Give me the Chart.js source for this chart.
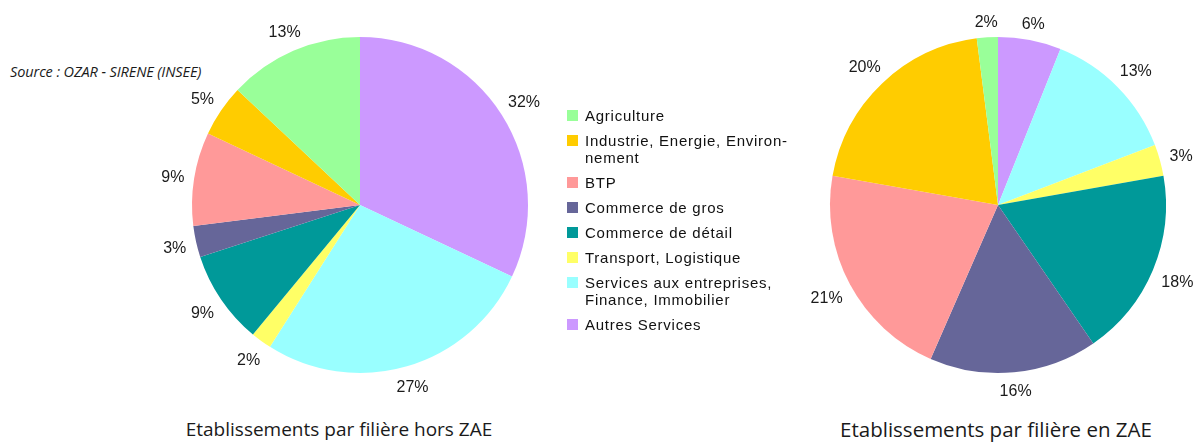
<!DOCTYPE html>
<html>
<head>
<meta charset="utf-8">
<script src="https://cdn.jsdelivr.net/npm/chart.js@4"></script>
<style>
  body { margin: 0; width: 1196px; height: 443px; background: #fff; position: relative; overflow: hidden; }
  canvas { position: absolute; }
  #pieHors { left: 140px; top: 5px; }
  #pieEn { left: 778px; top: 5px; }
  .titre { position: absolute; top: 416px; font-family: "Open Sans", sans-serif; font-size: 19px; color: #1a1a1a; white-space: nowrap; transform: translateX(-50%); }
  #source { position: absolute; left: 10px; top: 62px; font-family: "Open Sans", sans-serif; font-style: italic; font-size: 14.5px; color: #1a1a1a; letter-spacing: -0.1px; }
  #legende { position: absolute; left: 567px; top: 107px; font-family: "Liberation Sans", Arial, sans-serif; font-size: 15px; letter-spacing: 0.75px; color: #111; }
  .item { position: relative; padding-left: 18px; line-height: 17px; margin-bottom: 8px; white-space: pre-line; }
  .item span { position: absolute; left: 0; top: 3px; width: 11px; height: 11px; }
</style>
</head>
<body>
<div id="source">Source : OZAR - SIRENE (INSEE)</div>
<canvas id="pieHors" width="440" height="400"></canvas>
<canvas id="pieEn" width="440" height="400"></canvas>
<div id="legende"></div>
<div class="titre" style="left:339px">Etablissements par filière hors ZAE</div>
<div class="titre" style="left:996px; top:415px; font-size:20.5px">Etablissements par filière en ZAE</div>
<script>
// filières, dans l'ordre de la légende
const filieres = ['Agriculture', 'Industrie, Energie, Environ-\nnement', 'BTP', 'Commerce de gros',
  'Commerce de détail', 'Transport, Logistique', 'Services aux entreprises,\nFinance, Immobilier', 'Autres Services'];
const couleurs = ['#99ff99', '#ffcc00', '#ff9999', '#666699', '#009999', '#ffff66', '#99ffff', '#cc99ff'];
// pourcentages d'établissements
const horsZAE = [13, 5, 9, 3, 9, 2, 27, 32];
const enZAE = [2, 20, 21, 16, 18, 3, 13, 6];

// légende
const leg = document.getElementById('legende');
filieres.forEach((f, i) => {
  const d = document.createElement('div');
  d.className = 'item';
  d.innerHTML = '<span style="background:' + couleurs[i] + '"></span>';
  d.appendChild(document.createTextNode(f));
  leg.appendChild(d);
});

// étiquettes % autour du camembert
const etiquettes = {
  id: 'etiquettes',
  afterDatasetsDraw(chart) {
    const ctx = chart.ctx;
    const ds = chart.data.datasets[0];
    ctx.save();
    ctx.font = '16px "Liberation Sans", Arial, sans-serif';
    ctx.fillStyle = '#1a1a1a';
    ctx.textAlign = 'center';
    ctx.textBaseline = 'middle';
    chart.getDatasetMeta(0).data.forEach((arc, i) => {
      const p = arc.getProps(['x', 'y', 'startAngle', 'endAngle', 'outerRadius'], true);
      const mid = (p.startAngle + p.endAngle) / 2;
      const txt = ds.data[i] + '%';
      const w = ctx.measureText(txt).width;
      const r = p.outerRadius + 9 + Math.abs(Math.cos(mid)) * w / 2 + Math.abs(Math.sin(mid)) * 7;
      ctx.fillText(txt, p.x + Math.cos(mid) * r, p.y + 2 + Math.sin(mid) * r);
    });
    ctx.restore();
  }
};

function camembert(id, valeurs) {
  // le camembert tourne dans le sens horaire depuis "Autres Services"
  new Chart(document.getElementById(id), {
    type: 'pie',
    data: {
      labels: filieres.slice().reverse(),
      datasets: [{
        data: valeurs.slice().reverse(),
        backgroundColor: couleurs.slice().reverse(),
        borderWidth: 0
      }]
    },
    options: {
      responsive: false,
      animation: false,
      layout: { padding: { left: 52, right: 52, top: 32, bottom: 32 } },
      plugins: { legend: { display: false }, tooltip: { enabled: false } }
    },
    plugins: [etiquettes]
  });
}

camembert('pieHors', horsZAE);
camembert('pieEn', enZAE);
</script>
</body>
</html>
